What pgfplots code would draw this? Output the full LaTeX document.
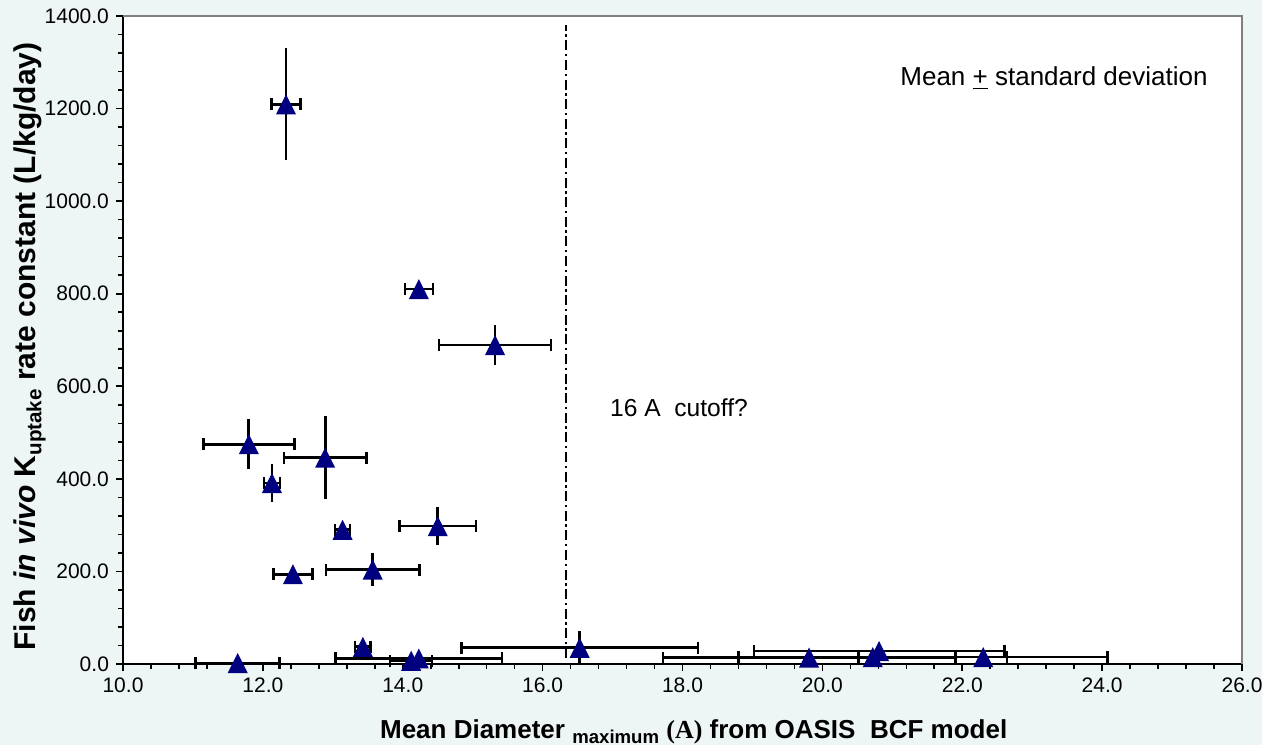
\documentclass[border=0pt]{standalone}
\usepackage{fontspec}
\setmainfont{Liberation Sans}
\newfontfamily\serifA{Liberation Serif}
\usepackage{pgfplots}
\pgfplotsset{compat=1.18}
\usepackage{pgfplotstable}
\definecolor{bgc}{RGB}{238,245,245}
\definecolor{navyc}{RGB}{0,0,128}
\definecolor{framegray}{RGB}{128,128,128}

\pgfdeclareplotmark{tri}{%
 \pgfpathmoveto{\pgfqpoint{0pt}{5pt}}%
 \pgfpathlineto{\pgfqpoint{-5pt}{-5pt}}%
 \pgfpathlineto{\pgfqpoint{5pt}{-5pt}}%
 \pgfpathclose\pgfusepathqfill}

\pgfplotstableread{
x y xe ye
12.33 1209 0.21 121
14.23 810 0.20 5
15.32 689 0.80 44
11.80 475 0.65 54
12.89 446 0.59 90
12.13 391 0.115 41
13.14 290 0.107 5
14.50 298 0.55 41
12.43 194 0.28 5
13.57 204 0.67 35
13.43 37 0.11 8
11.64 2 0.60 0
14.12 7 0.30 0
14.23 12 1.19 0
16.53 35 1.69 36
19.81 14 2.09 0
20.72 15 1.92 0
20.81 28 1.79 0
22.30 15 1.78 0
}\data

\begin{document}
\begin{tikzpicture}
\fill[bgc] (-61.5pt,-40.5pt) rectangle (569.5pt,332pt);
\begin{axis}[
  at={(0,0)}, anchor=south west,
  scale only axis, width=559.5pt, height=324pt,
  xmin=10, xmax=26, ymin=0, ymax=1400,
  xtick={10,12,...,26}, ytick={0,200,...,1400},
  minor x tick num=4, minor y tick num=4,
  tick align=outside,
  major tick length=3.5pt, minor tick length=2.5pt,
  tick style={black, line width=0.8pt},
  axis x line*=bottom, axis y line*=left,
  axis line style={black, line width=0.9pt, -},
  axis background/.style={fill=white},
  clip=false,
  ticklabel style={font=\fontsize{10.5}{12}\selectfont},
  /pgf/number format/.cd, fixed, fixed zerofill, precision=1, 1000 sep={}, assume math mode=true,
  /pgfplots/.cd,
  xlabel={\bfseries Mean Diameter \raisebox{-0.35ex}{\fontsize{9.3}{10}\selectfont maximum} {\serifA (A)} from OASIS\ \ BCF model},
  ylabel={\bfseries Fish \textit{in vivo} K\raisebox{-0.35ex}{\fontsize{10.3}{10}\selectfont uptake} rate constant (L/kg/day)},
  xlabel style={font=\fontsize{13}{15}\selectfont, at={(axis description cs:0.51,-0.1157)}, anchor=base},
  ylabel style={font=\fontsize{15}{17}\selectfont, at={(axis description cs:-0.078,0.49)}, anchor=base},
]
\addplot[draw=none, mark=none, line width=1.4pt, error bars/.cd, y dir=both, y explicit, error mark=none,
  error bar style={draw=black, line width=1.4pt, solid}]
  table[x=x, y=y, y error=ye]{\data};
\addplot[only marks, mark=tri, navyc, line width=1.4pt, error bars/.cd, x dir=both, x explicit,
  error mark=|,
  error mark options={draw=black, mark size=3pt, line width=1.3pt},
  error bar style={draw=black, line width=1.4pt, solid}]
  table[x=x, y=y, x error=xe]{\data};
\addplot[black, line width=1pt, dash pattern=on 5pt off 1.8pt on 1.2pt off 1.8pt, mark=none]
  coordinates {(16.33,13) (16.33,1380)};
\draw[framegray, line width=0.8pt] (rel axis cs:0,1) -- (rel axis cs:1,1) -- (rel axis cs:1,0);
\node[anchor=west, font=\fontsize{12.3}{14}\selectfont, inner sep=0pt] at (axis cs:16.96,553) {16 A\ \ cutoff?};
\node[anchor=west, font=\fontsize{13}{15}\selectfont, inner sep=0pt] at (axis cs:21.11,1266) {Mean \underline{+} standard deviation};
\end{axis}
\pgfresetboundingbox
\useasboundingbox (-61.5pt,-40.5pt) rectangle (569.5pt,332pt);
\end{tikzpicture}
\end{document}
